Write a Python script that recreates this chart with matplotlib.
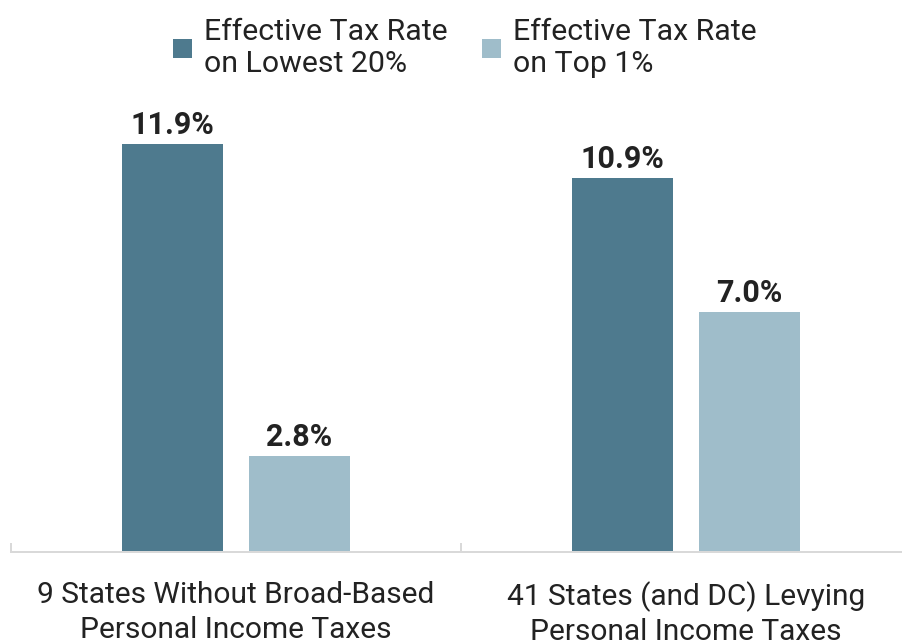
import matplotlib
matplotlib.use('Agg')
import matplotlib.pyplot as plt
import numpy as np

plt.rcParams['font.family'] = ['Roboto', 'DejaVu Sans']

categories = ['9 States Without Broad-Based\nPersonal Income Taxes',
              '41 States (and DC) Levying\nPersonal Income Taxes']
series_names = ['Effective Tax Rate\non Lowest 20%', 'Effective Tax Rate\non Top 1%']
lowest_20 = [11.9, 10.9]
top_1 = [2.8, 7.0]
colors = ['#4e7a8e', '#9fbdca']

text_color = '#222222'
axis_color = '#d9d9d9'

fig = plt.figure(figsize=(9.02, 6.41), dpi=100)
ax = fig.add_axes([11 / 902, 89 / 641, 900 / 902, 13 * 34.3 / 641])

x = np.arange(len(categories))
width = 0.223
offset = 0.141

bars1 = ax.bar(x - offset, lowest_20, width, color=colors[0], label=series_names[0])
bars2 = ax.bar(x + offset, top_1, width, color=colors[1], label=series_names[1])

for bars, vals in [(bars1, lowest_20), (bars2, top_1)]:
    for b, v in zip(bars, vals):
        ax.annotate(f'{v:.1f}%', (b.get_x() + b.get_width() / 2, v),
                    xytext=(0, 7), textcoords='offset points',
                    ha='center', va='baseline', fontsize=22,
                    fontweight='bold', color=text_color)

ax.set_xlim(-0.5, 1.5)
ax.set_ylim(0, 13)

ax.set_xticks(x)
ax.set_xticklabels(categories, fontsize=21.5, color=text_color, linespacing=1.3)
ax.tick_params(axis='x', which='major', length=0, pad=21)
ax.set_xticks([-0.5, 0.5, 1.5], minor=True)
ax.tick_params(axis='x', which='minor', direction='in', length=6.5, width=1.44,
               color=axis_color)
ax.set_yticks([])

for s in ['top', 'left', 'right']:
    ax.spines[s].set_visible(False)
ax.spines['bottom'].set_color(axis_color)
ax.spines['bottom'].set_linewidth(1.44)

fig.legend(handles=[bars1, bars2], loc='upper left',
           bbox_to_anchor=(173 / 902, 1 - 18 / 641), ncol=2, frameon=False,
           fontsize=21.8, handlelength=0.63, handleheight=0.63,
           handletextpad=0.4, columnspacing=1.12, borderpad=0,
           borderaxespad=0, labelcolor=text_color)

fig.savefig('out.png', dpi=100)
